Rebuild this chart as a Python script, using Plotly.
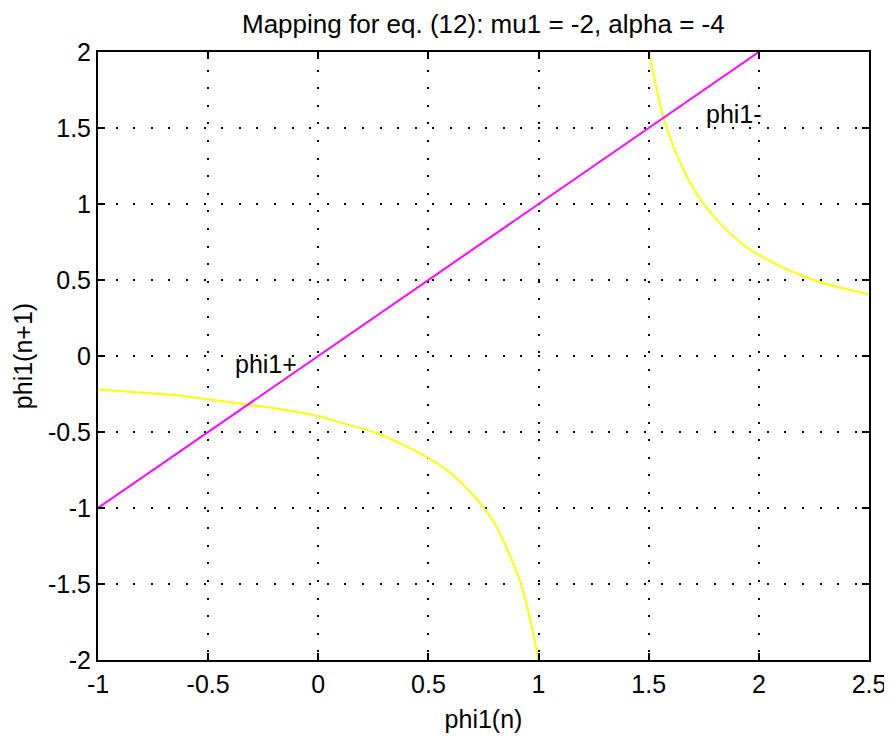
import plotly.graph_objects as go

# ---- data ----
line_x = [-1.0, 2.0]
line_y = [-1.0, 2.0]

left_x = [-1.0, -0.81, -0.63, -0.5, -0.32, -0.17, 0.0, 0.13, 0.28, 0.5, 0.6, 0.71, 0.8, 0.86, 0.92, 0.96, 1.0]
left_y = [-0.22, -0.24, -0.26, -0.285, -0.32, -0.35, -0.395, -0.45, -0.515, -0.67, -0.77, -0.925, -1.1, -1.28, -1.5, -1.72, -2.0]

right_x = [1.5, 1.53, 1.553, 1.58, 1.64, 1.69, 1.74, 1.8, 1.86, 1.95, 2.0, 2.07, 2.23, 2.34, 2.5]
right_y = [2.0, 1.80, 1.645, 1.51, 1.28, 1.135, 1.02, 0.91, 0.82, 0.71, 0.665, 0.61, 0.51, 0.46, 0.405]

x_ticks = [-1, -0.5, 0, 0.5, 1, 1.5, 2, 2.5]
x_tick_labels = ["-1", "-0.5", "0", "0.5", "1", "1.5", "2", "2.5"]
y_ticks = [-2, -1.5, -1, -0.5, 0, 0.5, 1, 1.5, 2]
y_tick_labels = ["-2", "-1.5", "-1", "-0.5", "0", "0.5", "1", "1.5", "2"]

labels = [("phi1+", -0.385, -0.055), ("phi1-", 1.75, 1.59)]

title_text = "Mapping for eq. (12): mu1 = -2, alpha = -4"
x_title = "phi1(n)"
y_title = "phi1(n+1)"

FONT = "Liberation Sans, Arial, sans-serif"
FS = 25

fig = go.Figure()
fig.add_trace(go.Scatter(x=left_x, y=left_y, mode="lines",
                         line=dict(color="#ffff00", width=2, shape="spline", smoothing=0.8),
                         showlegend=False))
fig.add_trace(go.Scatter(x=right_x, y=right_y, mode="lines",
                         line=dict(color="#ffff00", width=2, shape="spline", smoothing=0.8),
                         showlegend=False))
fig.add_trace(go.Scatter(x=line_x, y=line_y, mode="lines",
                         line=dict(color="#ff00ff", width=2), showlegend=False))

for txt, tx, ty in labels:
    fig.add_annotation(x=tx, y=ty, xref="x", yref="y", text=txt, showarrow=False,
                       xanchor="left", yanchor="middle",
                       font=dict(family=FONT, size=FS, color="black"))

fig.add_annotation(x=0.5, y=1, xref="paper", yref="paper", text=title_text,
                   showarrow=False, xanchor="center", yanchor="bottom", yshift=11,
                   font=dict(family=FONT, size=26, color="black"))

axis_common = dict(
    showline=True, linecolor="black", linewidth=2, mirror="ticks",
    ticks="inside", ticklen=7, tickwidth=1.5, tickcolor="black",
    showgrid=True, gridcolor="black", gridwidth=1.5, griddash="2px,15.6px",
    zeroline=False, tickfont=dict(family=FONT, size=FS, color="black"),
    ticklabeloverflow="allow",
)

fig.update_xaxes(range=[-1, 2.5], tickvals=x_ticks, ticktext=x_tick_labels,
                 ticklabelstandoff=1,
                 title=dict(text=x_title, font=dict(family=FONT, size=FS, color="black"), standoff=13),
                 **axis_common)
fig.update_yaxes(range=[-2, 2], tickvals=y_ticks, ticktext=y_tick_labels,
                 title=dict(text=y_title, font=dict(family=FONT, size=FS, color="black"), standoff=8),
                 **axis_common)

# page body has an 8px default margin, so the figure is offset by (8, 8)
fig.update_layout(
    width=884, height=730,
    margin=dict(l=90, r=23, t=44, b=78, autoexpand=False),
    paper_bgcolor="white", plot_bgcolor="white",
    font=dict(family=FONT, size=FS, color="black"),
)

fig.write_html("out.html")
